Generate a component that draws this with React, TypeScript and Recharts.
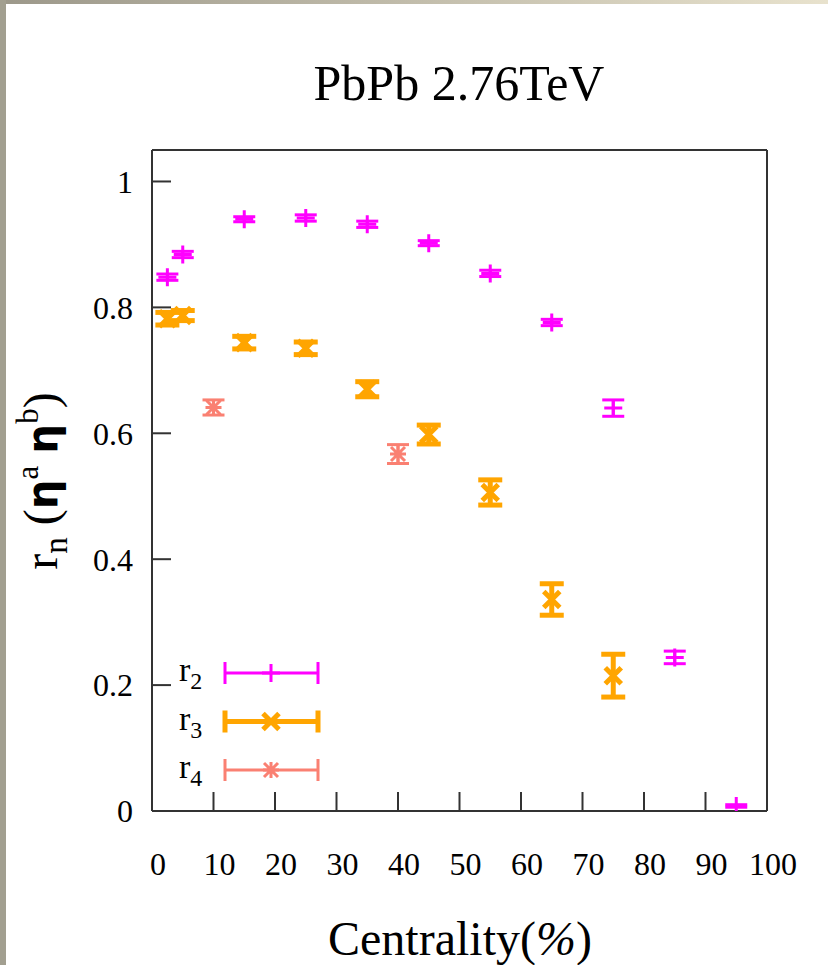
import { ScatterChart, Scatter, XAxis, YAxis, ErrorBar, Legend } from 'recharts';

// centrality bins (%), ratio values and their errors
const r2Centrality = [2.5, 5, 15, 25, 35, 45, 55, 65, 75, 85, 95];
const r2Values = [0.848, 0.884, 0.94, 0.942, 0.932, 0.902, 0.854, 0.776, 0.64, 0.244, 0.008];
const r2Errors = [0.005, 0.005, 0.004, 0.005, 0.005, 0.004, 0.005, 0.005, 0.013, 0.01, 0.002];

const r3Centrality = [2.5, 5, 15, 25, 35, 45, 55, 65, 75];
const r3Values = [0.782, 0.787, 0.744, 0.735, 0.67, 0.598, 0.506, 0.336, 0.215];
const r3Errors = [0.01, 0.008, 0.01, 0.01, 0.012, 0.015, 0.02, 0.025, 0.034];

const r4Centrality = [10, 40];
const r4Values = [0.641, 0.567];
const r4Errors = [0.012, 0.015];

const xTicks = [0, 10, 20, 30, 40, 50, 60, 70, 80, 90, 100];
const yTicks = [0, 0.2, 0.4, 0.6, 0.8, 1];

const SERIF = '"Liberation Serif", "Times New Roman", serif';
const MAGENTA = '#ff00ff';
const ORANGE = '#ffa500';
const SALMON = '#fa8072';
const FRAME = '#333';

const toPoints = (xs: number[], ys: number[], errs: number[]) =>
  xs.map((x, i) => ({ x, y: ys[i], err: errs[i] }));

const r2Data = toPoints(r2Centrality, r2Values, r2Errors);
const r3Data = toPoints(r3Centrality, r3Values, r3Errors);
const r4Data = toPoints(r4Centrality, r4Values, r4Errors);

// gnuplot-style point symbols
const plusPath = (cx: number, cy: number, s: number) =>
  `M${cx - s},${cy}h${2 * s}M${cx},${cy - s}v${2 * s}`;
const crossPath = (cx: number, cy: number, s: number) =>
  `M${cx - s},${cy - s}L${cx + s},${cy + s}M${cx - s},${cy + s}L${cx + s},${cy - s}`;

const seriesStyle: Record<string, { color: string; width: number; path: (cx: number, cy: number) => string }> = {
  r2: { color: MAGENTA, width: 3, path: (cx, cy) => plusPath(cx, cy, 9) },
  r3: { color: ORANGE, width: 5, path: (cx, cy) => crossPath(cx, cy, 8) },
  r4: { color: SALMON, width: 3, path: (cx, cy) => plusPath(cx, cy, 8) + crossPath(cx, cy, 7) },
};

const makeShape = (key: string) => (props: any) => {
  const st = seriesStyle[key];
  return <path d={st.path(props.cx, props.cy)} stroke={st.color} strokeWidth={st.width} fill="none" />;
};

const LegendBox = (props: any) => {
  const items = props.payload || [];
  return (
    <svg width={170} height={150}>
      {items.map((it: any, i: number) => {
        const st = seriesStyle[it.value];
        if (!st) return null;
        const cy = 28 + i * 48.5;
        return (
          <g key={it.value}>
            <text x={9} y={cy + 8} fontFamily={SERIF} fontSize={34} fill="#000">
              r
              <tspan fontSize={24} dy={8}>
                {it.value.slice(1)}
              </tspan>
            </text>
            <path
              d={`M55,${cy}H148M55,${cy - 11}v22M148,${cy - 11}v22`}
              stroke={st.color}
              strokeWidth={st.width}
              fill="none"
            />
            <path d={st.path(101, cy)} stroke={st.color} strokeWidth={st.width} fill="none" />
          </g>
        );
      })}
    </svg>
  );
};

const tickFont = { fontSize: 32, fill: '#000', fontFamily: SERIF };
const frameLine = { stroke: FRAME, strokeWidth: 2 };

export default function App() {
  return (
    <div style={{ position: 'absolute', left: 0, top: 0, width: 828, height: 965, background: '#fff' }}>
      <div
        style={{
          position: 'absolute',
          left: 0,
          top: 0,
          width: 828,
          height: 4,
          background: 'linear-gradient(to right, #9c988a, #e8e2cd)',
        }}
      />
      <div style={{ position: 'absolute', left: 0, top: 0, width: 6, height: 965, background: '#a29f90' }} />
      <div style={{ position: 'absolute', left: 0, top: 0 }}>
        <ScatterChart width={828} height={965} margin={{ top: 140, right: 51, bottom: 94, left: 92 }}>
          <XAxis
            type="number"
            dataKey="x"
            domain={[0, 100]}
            ticks={xTicks}
            allowDataOverflow
            height={60}
            tickSize={-19}
            tickMargin={60}
            tick={{ ...tickFont, dx: 6 }}
            axisLine={frameLine}
            tickLine={frameLine}
          />
          <XAxis
            xAxisId="top"
            orientation="top"
            type="number"
            dataKey="x"
            domain={[0, 100]}
            ticks={xTicks}
            allowDataOverflow
            height={10}
            tickSize={-19}
            tick={false}
            axisLine={frameLine}
            tickLine={frameLine}
          />
          <YAxis
            type="number"
            dataKey="y"
            domain={[0, 1.05]}
            ticks={yTicks}
            allowDataOverflow
            width={60}
            tickSize={-19}
            tickMargin={38}
            tick={tickFont}
            tickFormatter={(v: number) => String(v)}
            axisLine={frameLine}
            tickLine={frameLine}
          />
          <YAxis
            yAxisId="right"
            orientation="right"
            type="number"
            dataKey="y"
            domain={[0, 1.05]}
            ticks={yTicks}
            allowDataOverflow
            width={10}
            tickSize={-19}
            tick={false}
            axisLine={frameLine}
            tickLine={frameLine}
          />
          <Legend
            layout="horizontal"
            align="center"
            verticalAlign="middle"
            wrapperStyle={{ left: 170, top: 645, width: 170 }}
            content={LegendBox}
          />
          <Scatter name="r2" data={r2Data} fill={MAGENTA} shape={makeShape('r2')} isAnimationActive={false}>
            <ErrorBar dataKey="err" direction="y" width={11} stroke={MAGENTA} strokeWidth={3} />
          </Scatter>
          <Scatter name="r3" data={r3Data} fill={ORANGE} shape={makeShape('r3')} isAnimationActive={false}>
            <ErrorBar dataKey="err" direction="y" width={12} stroke={ORANGE} strokeWidth={5} />
          </Scatter>
          <Scatter name="r4" data={r4Data} fill={SALMON} shape={makeShape('r4')} isAnimationActive={false}>
            <ErrorBar dataKey="err" direction="y" width={11} stroke={SALMON} strokeWidth={3} />
          </Scatter>
          <text x={459} y={100} textAnchor="middle" fontFamily={SERIF} fontSize={50} fill="#000">
            PbPb 2.76TeV
          </text>
          <text x={460} y={955} textAnchor="middle" fontFamily={SERIF} fontSize={48} fill="#000">
            Centrality(<tspan fontStyle="italic">%</tspan>)
          </text>
          <text
            transform="translate(57,481) rotate(-90)"
            textAnchor="middle"
            fontFamily={SERIF}
            fontSize={48}
            fill="#000"
          >
            r<tspan fontSize={33} dy={10}>n</tspan>
            <tspan dy={-10}> (</tspan>
            <tspan fontFamily='"DejaVu Sans", sans-serif' fontWeight="bold" fontSize={42}>η</tspan>
            <tspan fontSize={31} dy={-19}>a</tspan>
            <tspan dy={19}> </tspan>
            <tspan fontFamily='"DejaVu Sans", sans-serif' fontWeight="bold" fontSize={42}>η</tspan>
            <tspan fontSize={31} dy={-19}>b</tspan>
            <tspan dy={19}>)</tspan>
          </text>
        </ScatterChart>
      </div>
    </div>
  );
}
